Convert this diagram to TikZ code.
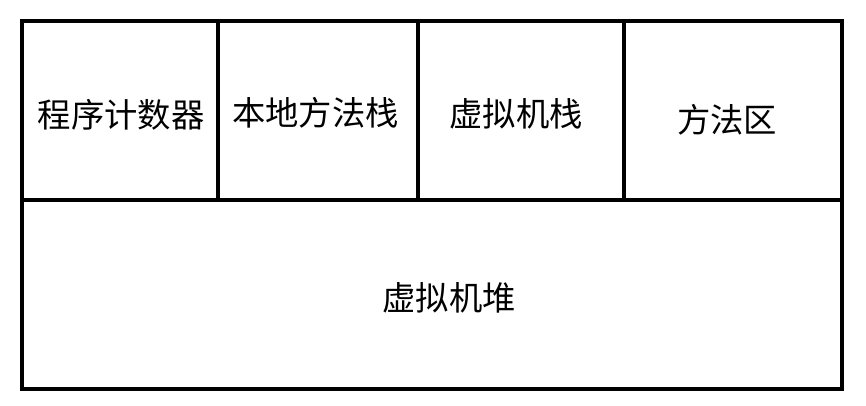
\documentclass[tikz,border=0pt]{standalone}
\usepackage{fontspec}
\setmainfont{Noto Sans CJK SC}
\usetikzlibrary{positioning}

\tikzset{
  area/.style={font=\fontsize{25}{25}\selectfont, inner sep=0pt},
  borda/.style={line width=3pt}
}

\begin{document}
\begin{tikzpicture}[x=0.75pt, y=-0.75pt]
    \useasboundingbox (0,0) rectangle (866,405);

    % caixa externa e divisões
    \draw[borda] (22,20.5) rectangle (842,388.5);
    \draw[borda] (22,199.5) -- (842,199.5);
    \draw[borda] (217.5,20.5) -- (217.5,199.5);
    \draw[borda] (417.5,20.5) -- (417.5,199.5);
    \draw[borda] (623.5,20.5) -- (623.5,199.5);

    % áreas da memória
    \node[area] (pc) at (121,115) {程序计数器};
    \node[area] (nativo) at (315.5,113) {本地方法栈};
    \node[area] (pilha) at (516,114) {虚拟机栈};
    \node[area] (metodo) at (727,120) {方法区};
    \node[area] (heap) at (449,298) {虚拟机堆};

\end{tikzpicture}
\end{document}
